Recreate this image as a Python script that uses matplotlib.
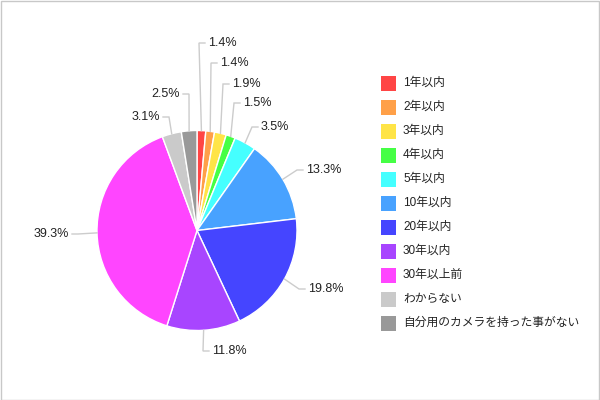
import numpy as np
import matplotlib
matplotlib.use("Agg")
import matplotlib.pyplot as plt
from matplotlib.patches import Rectangle

plt.rcParams['font.family'] = ['Liberation Sans', 'Noto Sans CJK JP', 'DejaVu Sans']

# data
categories = ['1年以内', '2年以内', '3年以内', '4年以内', '5年以内', '10年以内',
              '20年以内', '30年以内', '30年以上前', 'わからない', '自分用のカメラを持った事がない']
shares = [1.4, 1.4, 1.9, 1.5, 3.5, 13.3, 19.8, 11.8, 39.3, 3.1, 2.5]
colors = ['#ff4545', '#ffa048', '#ffe447', '#45ff45', '#45ffff', '#48a2ff',
          '#4545ff', '#a845ff', '#ff45ff', '#cacaca', '#999999']

# label layout (pixel coords: text x, text y, side)
label_pos = [(208, 43, 'l'), (220, 63, 'l'), (232, 84, 'l'), (243, 103, 'l'),
             (261, 127, 'l'), (306, 170, 'l'), (308, 289, 'l'), (212, 351, 'l'),
             (69, 234, 'r'), (160, 117, 'r'), (180, 94, 'r')]

W, H = 600, 400
cx, cy, r = 197, 230.5, 100
txt_col = '#222222'
line_col = '#cccccc'

fig = plt.figure(figsize=(6, 4), dpi=100)
ax = fig.add_axes([0, 0, 1, 1])

wedges, _ = ax.pie(shares, colors=colors, startangle=90, counterclock=False,
                   center=(cx, H - cy), radius=r, frame=True,
                   wedgeprops=dict(edgecolor='white', linewidth=1))

ax.set_xlim(0, W)
ax.set_ylim(0, H)
ax.set_aspect('equal')
ax.axis('off')

# percentage labels with leader lines
for w, val, (tx, ty, side) in zip(wedges, shares, label_pos):
    mid = np.deg2rad((w.theta1 + w.theta2) / 2)
    ex = w.center[0] + r * np.cos(mid)
    ey = w.center[1] + r * np.sin(mid)
    sgn = 1 if side == 'l' else -1
    elx = tx - 9 * sgn
    endx = tx - 3 * sgn
    ax.plot([ex, elx, endx], [ey, H - ty, H - ty], color=line_col, lw=1,
            solid_joinstyle='miter')
    ax.text(tx, H - ty, f'{val:.1f}%', fontsize=9, color=txt_col,
            ha='left' if side == 'l' else 'right', va='center')

# legend
for i, (lab, c) in enumerate(zip(categories, colors)):
    y = 83 + 24 * i
    ax.add_patch(Rectangle((381, H - y - 7.5), 15, 15, facecolor=c, edgecolor='none'))
    ax.text(403, H - y, lab, fontsize=8.5, color=txt_col, ha='left', va='center')

# outer border
fig.patches.append(Rectangle((0.5 / W, 0.5 / H), 1 - 1.5 / W, 1 - 1.5 / H,
                             transform=fig.transFigure, fill=False,
                             edgecolor='#c8c8c8', lw=1))

fig.savefig('out.png', dpi=100)
